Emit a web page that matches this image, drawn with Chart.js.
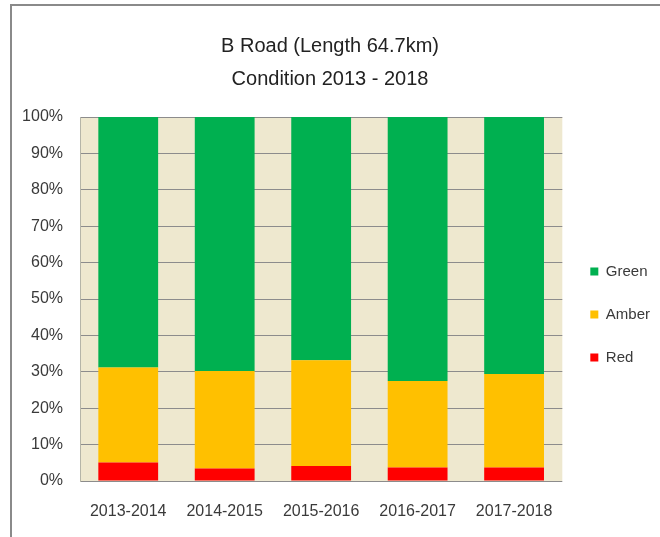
<!DOCTYPE html>
<html>
<head>
<meta charset="utf-8">
<title>B Road Condition 2013 - 2018</title>
<script src="https://cdn.jsdelivr.net/npm/chart.js@4/dist/chart.umd.min.js"></script>
<style>
  html, body { margin: 0; padding: 0; background: #ffffff; overflow: hidden; }
  #frame {
    position: absolute; left: 10px; top: 4px; width: 700px; height: 600px;
    border: 2px solid #8a8a8a; box-sizing: border-box;
  }
  #chart { position: absolute; left: 0; top: 0; }
</style>
</head>
<body>
<div id="frame"></div>
<canvas id="chart" width="660" height="537"></canvas>
<script>
// Survey years
const categories = ['2013-2014', '2014-2015', '2015-2016', '2016-2017', '2017-2018'];

// Share of the network in each condition band (%)
const redValues   = [5.1, 3.4, 4.1, 3.7, 3.7];
const amberValues = [26.1, 26.8, 29.1, 23.8, 25.7];
const greenValues = [68.8, 69.8, 66.8, 72.5, 70.6];

const titleLines = ['B Road (Length 64.7km)', 'Condition 2013 - 2018'];
const yTickStep = 10;

const FONT = "'Liberation Sans', Arial, sans-serif";
const TEXT = '#3a3a3a';

// Beige plot-area fill behind the bars
const plotBackground = {
  id: 'plotBackground',
  beforeDraw(chart) {
    const { ctx, chartArea: a } = chart;
    ctx.save();
    ctx.fillStyle = '#eee8cf';
    ctx.fillRect(a.left, a.top, a.right - a.left, a.bottom - a.top);
    ctx.restore();
  }
};

new Chart(document.getElementById('chart'), {
  type: 'bar',
  data: {
    labels: categories,
    datasets: [
      { label: 'Red',   data: redValues,   backgroundColor: '#ff0000' },
      { label: 'Amber', data: amberValues, backgroundColor: '#ffc000' },
      { label: 'Green', data: greenValues, backgroundColor: '#00b050' }
    ]
  },
  options: {
    responsive: false,
    animation: false,
    events: [],
    layout: { padding: { left: 0, right: 0, top: 0, bottom: 0 } },
    datasets: { bar: { categoryPercentage: 1, barPercentage: 0.62 } },
    plugins: {
      title: {
        display: true,
        text: titleLines,
        color: '#222222',
        font: { family: FONT, size: 20, weight: 'normal', lineHeight: 1.65 },
        padding: { top: 30, bottom: 21 }
      },
      legend: {
        display: true,
        position: 'right',
        fullSize: false,
        reverse: true,
        maxWidth: 98,
        title: { display: true, text: ' ', font: { size: 10, lineHeight: 1.2 }, padding: { top: 19, bottom: 0 } },
        labels: {
          boxWidth: 8,
          boxHeight: 8,
          padding: 28,
          color: TEXT,
          font: { family: FONT, size: 15 }
        }
      },
      tooltip: { enabled: false }
    },
    scales: {
      x: {
        stacked: true,
        grid: { display: false, drawTicks: false },
        border: { display: false },
        ticks: { color: TEXT, font: { family: FONT, size: 16 }, padding: 21, maxRotation: 0 },
        afterFit(scale) { scale.height = 56; }
      },
      y: {
        stacked: true,
        min: 0,
        max: 100,
        grid: { color: '#8c8c8c', lineWidth: 1, drawTicks: false },
        border: { display: true, color: '#b5b5a8' },
        ticks: {
          stepSize: yTickStep,
          color: TEXT,
          font: { family: FONT, size: 16 },
          padding: 17,
          callback: v => v + '%'
        },
        afterFit(scale) { scale.width = 80; }
      }
    }
  },
  plugins: [plotBackground]
});
</script>
</body>
</html>
